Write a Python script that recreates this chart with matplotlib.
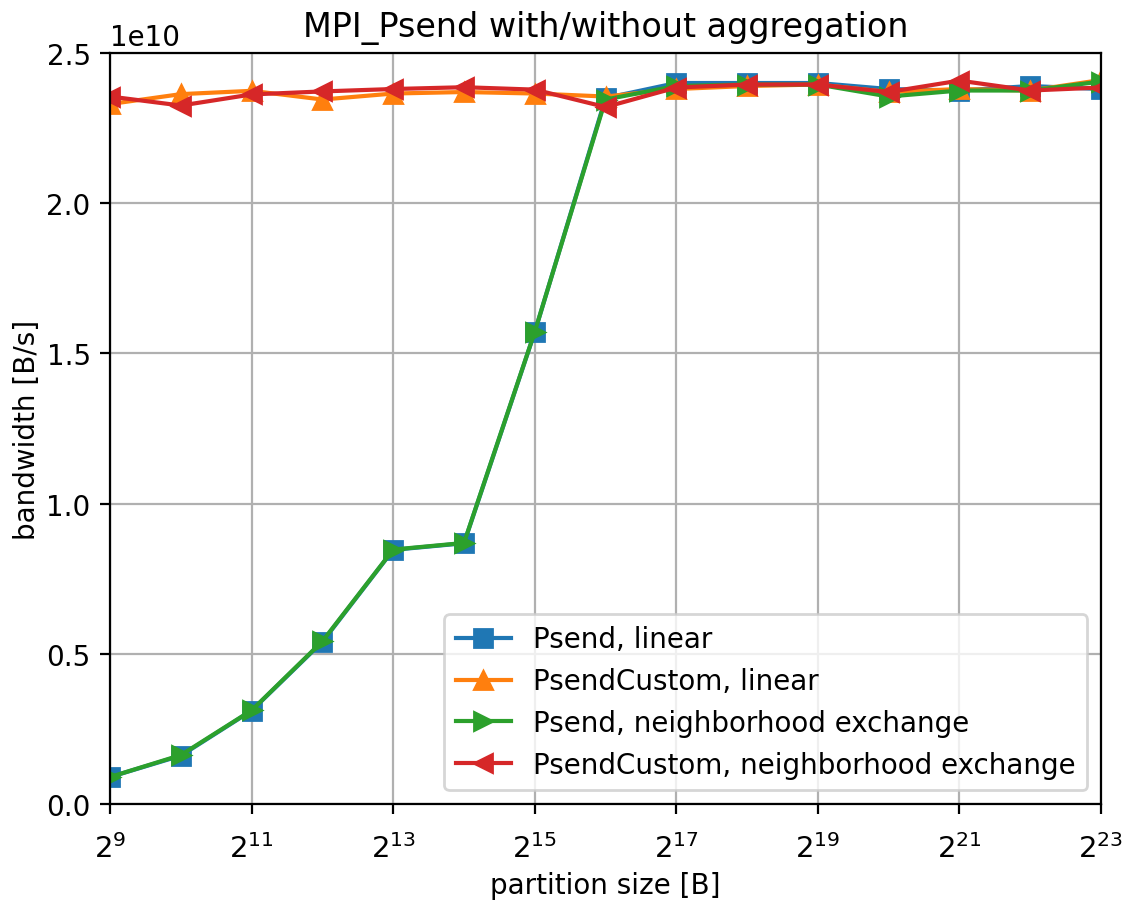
import matplotlib
matplotlib.use("Agg")
import matplotlib.pyplot as plt
from matplotlib.ticker import LogLocator

# partition sizes 2^9 .. 2^23 bytes
exponents = list(range(9, 24))
sizes = [2 ** e for e in exponents]

# measured bandwidth in B/s
psend_linear = [0.90e9, 1.61e9, 3.11e9, 5.40e9, 8.46e9, 8.68e9, 15.71e9, 2.350e10,
                2.400e10, 2.400e10, 2.400e10, 2.380e10, 2.375e10, 2.390e10, 2.380e10]
psendcustom_linear = [2.330e10, 2.363e10, 2.374e10, 2.345e10, 2.365e10, 2.370e10, 2.365e10, 2.355e10,
                      2.380e10, 2.390e10, 2.395e10, 2.370e10, 2.380e10, 2.375e10, 2.410e10]
psend_neighbor = [0.90e9, 1.63e9, 3.12e9, 5.42e9, 8.47e9, 8.69e9, 15.72e9, 2.345e10,
                  2.390e10, 2.395e10, 2.395e10, 2.355e10, 2.375e10, 2.375e10, 2.405e10]
psendcustom_neighbor = [2.355e10, 2.325e10, 2.362e10, 2.372e10, 2.380e10, 2.386e10, 2.378e10, 2.320e10,
                        2.385e10, 2.395e10, 2.395e10, 2.370e10, 2.408e10, 2.375e10, 2.385e10]

series = [
    ("Psend, linear", psend_linear, "s", "tab:blue"),
    ("PsendCustom, linear", psendcustom_linear, "^", "tab:orange"),
    ("Psend, neighborhood exchange", psend_neighbor, ">", "tab:green"),
    ("PsendCustom, neighborhood exchange", psendcustom_neighbor, "<", "tab:red"),
]

plt.rcParams["font.family"] = ["DejaVu Sans"]
fig = plt.figure(figsize=(5.62, 4.52), dpi=200)
ax = fig.add_axes([0.098, 0.1095, 0.8815, 0.8308])

for label, vals, marker, color in series:
    ax.plot(sizes, vals, marker=marker, color=color, label=label,
            linewidth=1.5, markersize=6.5)

ax.set_xscale("log", base=2)
ax.xaxis.set_major_locator(LogLocator(base=2, subs=(1.0,), numticks=8))
ax.set_xlim(2 ** 9, 2 ** 23)
ax.set_ylim(0, 2.5e10)
ax.set_yticks([0, 0.5e10, 1.0e10, 1.5e10, 2.0e10, 2.5e10])
ax.grid(True)
ax.set_axisbelow(True)
ax.tick_params(axis="x", which="minor", length=0)
ax.tick_params(axis="x", which="major", pad=7, labelsize=10.5)

ax.set_title("MPI_Psend with/without aggregation")
ax.set_xlabel("partition size [B]", labelpad=3)
ax.set_ylabel("bandwidth [B/s]", labelpad=2)
ax.legend(loc="lower right")

fig.savefig("out.png", dpi=200)
